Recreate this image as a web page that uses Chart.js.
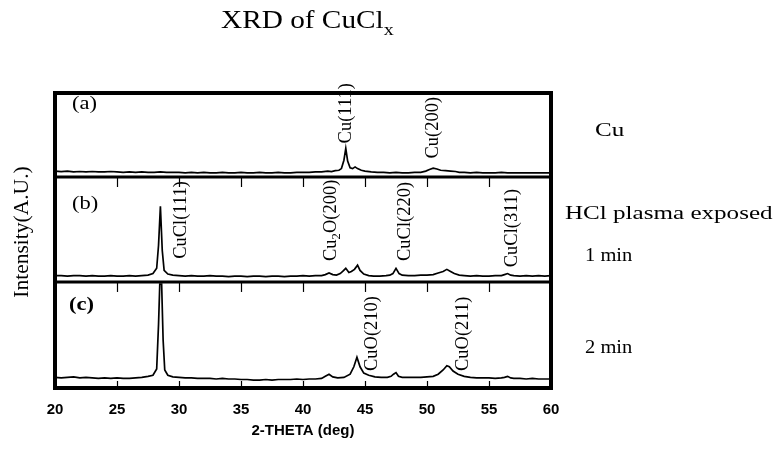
<!DOCTYPE html>
<html><head><meta charset="utf-8">
<script src="https://cdn.jsdelivr.net/npm/chart.js@4/dist/chart.umd.min.js"></script>
<style>html,body{margin:0;padding:0;background:#fff}</style>
</head><body>
<canvas id="c" width="775" height="451"></canvas>
<script>
// ---------- data ----------
const xTicks = [20, 25, 30, 35, 40, 45, 50, 55, 60];
const panelNames = ['(a)', '(b)', '(c)'];
const sideLabels = ['Cu', 'HCl plasma exposed', '1 min', '2 min'];

// (a) Cu
const thetaA = [20,20.5,21,21.5,22,22.5,23,23.5,24,24.5,25,25.5,26,26.5,27,27.5,28,28.5,29,29.5,
  30,30.5,31,31.5,32,32.5,33,33.5,34,34.5,35,35.5,36,36.5,37,37.5,38,38.5,39,39.5,40,40.5,41,41.5,42,
  42.3,42.6,42.9,43.1,43.3,43.45,43.6,43.8,44.0,44.2,44.4,44.7,45.0,
  45.5,46,46.5,47,47.5,48,48.5,49,49.5,
  49.9,50.2,50.5,50.8,51.1,51.5,51.9,52.3,52.6,
  53,53.5,54,54.5,55,55.5,56,56.5,57,57.5,58,58.5,59,59.5,60];
const intA = [7,6.5,7,6,6.5,6,6.5,6,6,6.5,6,5.5,6,5.5,6,5.5,5.5,6,5.5,5.5,
  5.5,5,5.5,5,5.5,5,5,5.5,5,5,5.5,5,5,5.5,5,5,5.5,5,5,5.5,5.5,5.5,6,6,7,
  6.5,7.5,8,10,20,34,19,11,10,12,10,8,7,
  6,5.5,5.5,5,5.5,5,5,5.5,5.5,
  7,9,10.5,9.5,8,7.5,7,6.5,5.5,
  5.5,5,5.5,5,5,5,5.5,5,5,5,5,5,5,5,5];

// (b) HCl plasma 1 min
const thetaB = [20,20.5,21,21.5,22,22.5,23,23.5,24,24.5,25,25.5,26,26.5,27,27.5,
  27.9,28.2,28.35,28.5,28.65,28.8,29.1,29.5,
  30,30.5,31,31.5,32,32.5,33,33.5,34,34.5,35,35.5,36,36.5,37,37.5,38,38.5,39,39.5,40,40.5,41,41.5,
  41.8,42.1,42.4,42.7,43.0,43.2,43.45,43.7,43.9,44.15,44.4,44.6,44.9,45.3,
  45.7,46.2,46.7,47.0,47.25,47.5,47.75,48.0,48.5,49,49.5,50,50.5,50.9,51.3,51.6,51.9,52.2,52.6,
  53,53.5,54,54.5,55,55.5,56,56.25,56.5,56.75,57,57.5,58,58.5,59,59.5,60];
const intB = [6,6,5.5,6,6,5.5,6,5.5,5.5,6,5.5,5.5,6,5.5,6,6.5,
  8,13,35,72,30,11,7.5,6.5,
  6,5.5,6,5.5,5.5,6,5.5,5.5,5,5.5,5.5,5,5.5,5.5,5,5.5,5.5,5,5.5,5.5,6,5.5,6,6,
  7,8.5,7,6.5,8,10,13,9,10,12,16,11,7.5,6,
  5.5,5.5,6,6.5,8,13,8,6.5,6,6,6.5,6.5,7,8.5,10,12,10,8,6.5,
  6,5.5,6,5.5,5.5,6,6,7,8,6.5,6,5.5,6,5.5,6,5.5,6];

// (c) HCl plasma 2 min
const thetaC = [20,20.5,21,21.5,22,22.5,23,23.5,24,24.5,25,25.5,26,26.5,27,27.5,
  27.9,28.2,28.35,28.45,28.6,28.72,28.85,29.1,29.5,
  30,30.5,31,31.5,32,32.5,33,33.5,34,34.5,35,35.5,36,36.5,37,37.5,38,38.5,39,39.5,40,40.5,41,41.5,
  41.8,42.1,42.4,42.8,43.3,43.8,44.1,44.35,44.6,44.9,45.3,45.8,46.3,46.8,47.1,47.3,47.5,47.7,48.0,
  48.5,49,49.5,50,50.5,50.9,51.3,51.6,51.8,52.1,52.5,
  53,53.5,54,54.5,55,55.5,56,56.25,56.5,56.75,57,57.5,58,58.5,59,59.5,60];
const intC = [10,9.5,10,10.5,9.5,10,9.5,9,9.5,9,9.5,9,9,9.5,10,11,
  12,18,60,98,98,45,17,12,10.5,
  10,9.5,9.5,9,9,9,8.5,9,8.5,8.5,8,8,7.5,7.5,8,7.5,8,8,8,8.5,8,8.5,8.5,9,
  11,13,10.5,9.5,10,13,20,29,20,14,12,10.5,10,10,11,13,14.5,11,10,
  10,10,10,10.5,11,13,17,21,20,16,13,
  11,10,9.5,9.5,9.5,9,9.5,10,11,9.5,9,9,8.5,9,8.5,8.5,8.5];

// peak annotations (text, 2-theta, panel, intensity at label start)
const peakText  = ['Cu(111)','Cu(200)','CuCl(111)','Cu_{2}O(200)','CuCl(220)','CuCl(311)','CuO(210)','CuO(211)'];
const peakTheta = [43.5, 50.5, 30.2, 42.3, 48.2, 56.9, 45.6, 52.9];
const peakPanel = [0, 0, 1, 1, 1, 1, 2, 2];
const peakBase  = [40, 22, 22, 20, 20, 14, 16, 16];

// ---------- chart ----------
const SERIF = '"Liberation Serif", "Times New Roman", serif';
const pts = (t, v) => t.map((x, i) => ({x, y: v[i]}));
const yIds = ['ya', 'yb', 'yc'];

function drawRich(ctx, str, x, y, size) {
  const parts = str.split(/(_\{[^}]*\})/).filter(s => s.length);
  let cx = x;
  parts.forEach(p => {
    if (p.startsWith('_{')) {
      const s = p.slice(2, -1);
      ctx.font = (size * 0.68) + 'px ' + SERIF;
      ctx.fillText(s, cx, y + size * 0.28);
      cx += ctx.measureText(s).width;
    } else {
      ctx.font = size + 'px ' + SERIF;
      ctx.fillText(p, cx, y);
      cx += ctx.measureText(p).width;
    }
  });
  return cx - x;
}

const deco = {
  id: 'deco',
  afterDraw(chart) {
    const {ctx, chartArea: a, scales} = chart;
    const x = scales.x;
    const ys = yIds.map(id => scales[id]);
    const sep = [ys[1].top, ys[2].top];
    ctx.save();
    ctx.strokeStyle = '#000';
    ctx.fillStyle = '#000';
    // tick marks
    ctx.lineWidth = 1.2;
    x.ticks.forEach(t => {
      const px = Math.round(x.getPixelForValue(t.value)) + 0.5;
      sep.forEach(top => {
        ctx.beginPath(); ctx.moveTo(px, top); ctx.lineTo(px, top + 10); ctx.stroke();
      });
      ctx.beginPath(); ctx.moveTo(px, a.bottom); ctx.lineTo(px, a.bottom - 7); ctx.stroke();
    });
    // separators and frame
    ctx.lineWidth = 3;
    sep.forEach(yy => {
      ctx.beginPath(); ctx.moveTo(a.left, yy); ctx.lineTo(a.right, yy); ctx.stroke();
    });
    ctx.lineWidth = 4;
    ctx.strokeRect(a.left, a.top, a.right - a.left, a.bottom - a.top);

    // peak labels (rotated)
    ctx.textBaseline = 'middle';
    ctx.textAlign = 'left';
    peakText.forEach((txt, i) => {
      const px = x.getPixelForValue(peakTheta[i]);
      const py = ys[peakPanel[i]].getPixelForValue(peakBase[i]);
      ctx.save();
      ctx.translate(px, py);
      ctx.rotate(-Math.PI / 2);
      drawRich(ctx, txt, 0, 0, 18.5);
      ctx.restore();
    });

    // panel letters
    const letterPos = [[17, 11], [17, 27], [14, 23]];
    panelNames.forEach((n, i) => {
      ctx.save();
      ctx.translate(a.left + letterPos[i][0], ys[i].top + letterPos[i][1]);
      ctx.scale(1.25, 1);
      ctx.font = (i === 2 ? 'bold ' : '') + '18px ' + SERIF;
      ctx.textBaseline = 'middle';
      ctx.fillText(n, 0, 0);
      ctx.restore();
    });

    // side labels
    const side = [[a.right + 44, 131], [a.right + 14, 214], [a.right + 34, 256], [a.right + 34, 348]];
    sideLabels.forEach((s, i) => {
      ctx.save();
      ctx.translate(side[i][0], side[i][1]);
      ctx.scale(i < 2 ? 1.32 : 1.08, 1);
      ctx.font = '19px ' + SERIF;
      ctx.textBaseline = 'middle';
      ctx.fillText(s, 0, 0);
      ctx.restore();
    });

    // y label
    ctx.save();
    ctx.translate(22, 232);
    ctx.rotate(-Math.PI / 2);
    ctx.textAlign = 'center';
    ctx.textBaseline = 'middle';
    ctx.font = '21.5px ' + SERIF;
    ctx.fillText('Intensity(A.U.)', 0, 0);
    ctx.restore();

    // title
    ctx.save();
    ctx.translate(221, 28);
    ctx.scale(1.22, 1.08);
    ctx.textBaseline = 'alphabetic';
    drawRich(ctx, 'XRD of CuCl_{x}', 0, 0, 24);
    ctx.restore();

    ctx.restore();
  }
};

const hiddenY = (w) => ({
  type: 'linear', position: 'left', stack: 'xrd', stackWeight: w, min: 0, max: 100,
  display: true, ticks: {display: false}, grid: {display: false, drawTicks: false}, border: {display: false}
});

const lineStyle = {borderColor: '#000', borderWidth: 1.7, pointRadius: 0, tension: 0, fill: false};

new Chart(document.getElementById('c'), {
  type: 'line',
  data: {
    datasets: [
      Object.assign({label: 'Cu', data: pts(thetaA, intA), yAxisID: 'ya'}, lineStyle),
      Object.assign({label: '1 min', data: pts(thetaB, intB), yAxisID: 'yb'}, lineStyle),
      Object.assign({label: '2 min', data: pts(thetaC, intC), yAxisID: 'yc'}, lineStyle)
    ]
  },
  options: {
    responsive: false,
    animation: false,
    devicePixelRatio: 1,
    layout: {padding: {left: 55, right: 224, top: 93, bottom: 0}},
    plugins: {legend: {display: false}, tooltip: {enabled: false}, title: {display: false}},
    scales: {
      x: {
        type: 'linear', min: 20, max: 60, position: 'bottom',
        afterBuildTicks: s => { s.ticks = xTicks.map(v => ({value: v})); },
        afterFit: s => { s.height = 63; },
        ticks: {color: '#000', padding: 13, maxRotation: 0, autoSkip: false,
                font: {family: '"Liberation Sans", Arial, sans-serif', weight: 'bold', size: 15}},
        grid: {display: false, drawTicks: false},
        border: {display: false},
        title: {display: true, text: '2-THETA (deg)', color: '#000',
                font: {family: '"Liberation Sans", Arial, sans-serif', weight: 'bold', size: 15},
                padding: {top: 0, bottom: 11}}
      },
      // left-side stacked boxes are laid out in reverse order: bottom panel first
      yc: hiddenY(1.01),
      yb: hiddenY(1),
      ya: hiddenY(0.8)
    }
  },
  plugins: [deco]
});
</script>
</body></html>
